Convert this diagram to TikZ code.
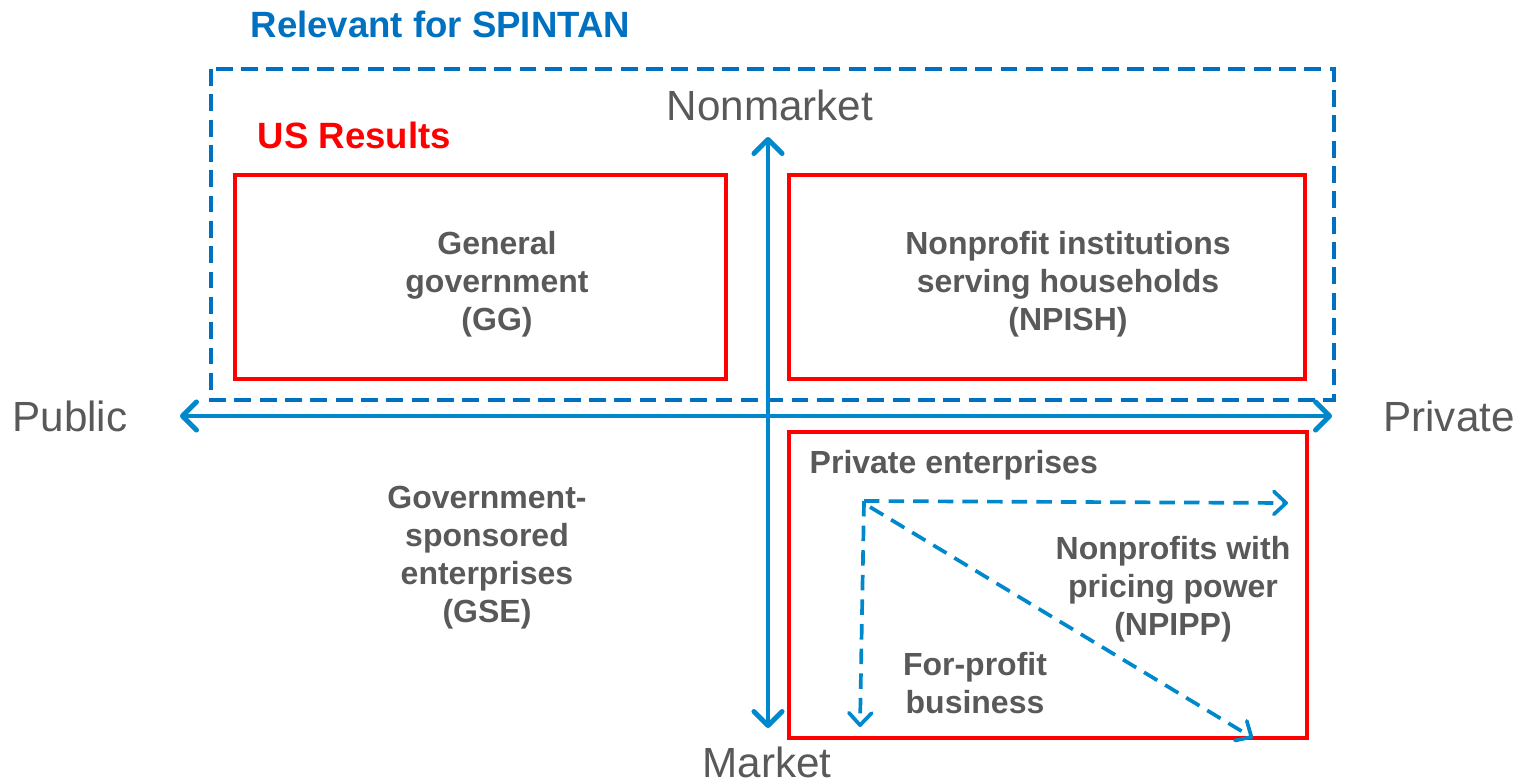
\documentclass[tikz,border=0pt]{standalone}
\usepackage{fontspec}
\setmainfont{Liberation Sans}
\usetikzlibrary{arrows.meta}
\definecolor{axisblue}{HTML}{0088CC}
\definecolor{spintanblue}{HTML}{0070C0}
\definecolor{labelgray}{HTML}{595959}
\definecolor{resultred}{HTML}{FF0000}

\begin{document}
\begin{tikzpicture}[x=0.01cm, y=-0.01cm,
        axis/.style={draw=axisblue, line width=1.4pt, line cap=round,
            {Straight Barb[length=4pt, width=8pt, round]}-{Straight Barb[length=4pt, width=8pt, round]}},
        flow/.style={draw=axisblue, line width=1.05pt, dash pattern=on 4.4pt off 2.6pt,
            -{Straight Barb[length=3.5pt, width=6.5pt, round]}},
        sector/.style={draw=resultred, line width=1.15pt},
        pole/.style={text=labelgray, font=\fontsize{12}{14}\selectfont, inner sep=0pt},
        item/.style={text=labelgray, font=\fontsize{9.1}{10.8}\selectfont\bfseries, align=center, inner sep=0pt}]
        \useasboundingbox (0, 0) rectangle (1524, 781);

        % relevant area and US results
        \draw[draw=spintanblue, line width=1.15pt, dash pattern=on 4.8pt off 2.4pt] (211, 69) rectangle (1334, 400);
        \node[anchor=west, text=spintanblue, font=\fontsize{10.4}{12}\selectfont\bfseries, inner sep=0pt] (spintan) at (250, 24) {Relevant for SPINTAN};
        \node[anchor=west, text=resultred, font=\fontsize{10.4}{12}\selectfont\bfseries, inner sep=0pt] (usres) at (257, 135) {US Results};

        \draw[sector] (235, 175) rectangle (726, 379);
        \draw[sector] (789, 175) rectangle (1305, 379);
        \draw[sector] (789, 432) rectangle (1307, 738);

        % axes
        \node[pole] (public) at (70, 416) {Public};
        \node[pole] (private) at (1449, 416) {Private};
        \node[pole] (nonmarket) at (770, 105) {Nonmarket};
        \node[pole] (market) at (767, 762) {Market};
        \coordinate (w) at (180, 416);
        \coordinate (e) at (1332, 416);
        \coordinate (n) at (768, 137);
        \coordinate (s) at (768, 728);
        \draw[axis] (w) -- (e);
        \draw[axis] (n) -- (s);

        % sectors
        \node[item] (gg) at (497, 284) {General\\government\\(GG)};
        \node[item] (npish) at (1068, 284) {Nonprofit institutions\\serving households\\(NPISH)};
        \node[item] (gse) at (487, 558) {Government-\\sponsored\\enterprises\\(GSE)};
        \node[item, anchor=west] (pe) at (809, 465) {Private enterprises};
        \node[item] (npipp) at (1173, 589) {Nonprofits with\\pricing power\\(NPIPP)};
        \node[item] (fp) at (975, 683) {For-profit\\business};

        % split of private enterprises
        \coordinate (o) at (864, 501);
        \coordinate (odiagstart) at (870, 507);
        \coordinate (oright) at (1288, 503);
        \coordinate (odown) at (860, 727);
        \coordinate (odiag) at (1253, 738);
        \draw[flow] (o) -- (oright);
        \draw[flow] (o) -- (odown);
        \draw[flow] (odiagstart) -- (odiag);
\end{tikzpicture}
\end{document}
